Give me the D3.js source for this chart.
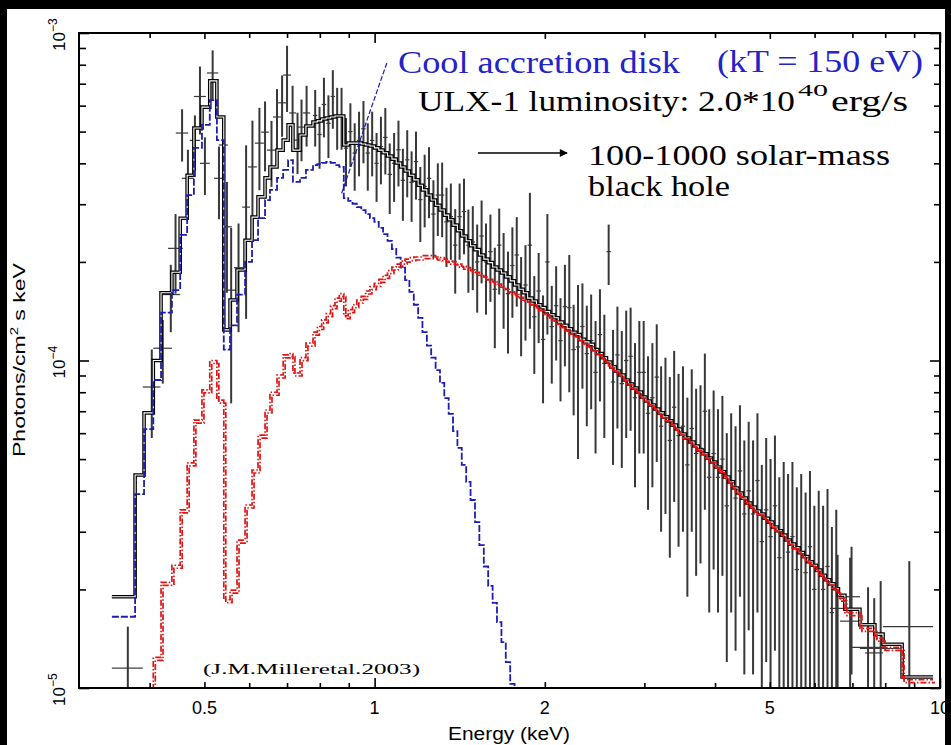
<!DOCTYPE html>
<meta charset="utf-8">
<script src="https://d3js.org/d3.v7.min.js"></script>
<style>body{margin:0;background:#000}</style>
<div id="my_dataviz"></div>
<script>
// bin edges (keV): wide bins below 0.78 keV, narrow bins 0.78-6.6 keV, wide bins above
var lowEdges = [0.343,0.377,0.391,0.406,0.419,0.438,0.453,0.466,0.479,0.495,
  0.511,0.526,0.541,0.555,0.571,0.590,0.607,0.622,0.640,0.653,
  0.672,0.689,0.703,0.717,0.738,0.756];
var denseEdges = [0.778,0.792,0.806,0.821,0.836,0.851,0.866,0.882,0.898,0.914,
  0.930,0.947,0.964,0.981,0.999,1.017,1.035,1.054,1.073,1.092,
  1.112,1.132,1.152,1.173,1.194,1.215,1.237,1.259,1.282,1.305,
  1.328,1.352,1.376,1.401,1.426,1.452,1.478,1.505,1.532,1.560,
  1.588,1.617,1.646,1.676,1.706,1.737,1.768,1.800,1.832,1.865,
  1.899,1.933,1.968,2.003,2.039,2.076,2.113,2.151,2.190,2.229,
  2.269,2.310,2.352,2.394,2.437,2.481,2.526,2.571,2.617,2.664,
  2.712,2.761,2.811,2.862,2.913,2.965,3.018,3.072,3.127,3.183,
  3.240,3.298,3.357,3.417,3.479,3.542,3.606,3.671,3.737,3.804,
  3.872,3.942,4.013,4.085,4.159,4.234,4.310,4.388,4.467,4.547,
  4.629,4.712,4.797,4.883,4.971,5.060,5.151,5.244,5.338,5.434,
  5.532,5.632,5.733,5.836,5.941,6.048,6.157,6.268,6.381,6.496,6.613];
var tailEdges = [6.789,7.217,7.67,7.93,8.57,9.72];

// total model (black), one value per model bin
var totalModel = [1.90e-5,4.47e-5,6.92e-5,1.00e-4,1.61e-4,1.86e-4,2.72e-4,3.68e-4,5.13e-4,5.94e-4,
  7.14e-4,5.54e-4,1.24e-4,1.53e-4,1.89e-4,2.33e-4,2.74e-4,3.16e-4,3.61e-4,3.90e-4,
  4.39e-4,4.71e-4,5.24e-4,4.39e-4,4.88e-4,5.20e-4,
  5.35e-4,5.39e-4,5.46e-4,5.50e-4,5.54e-4,5.58e-4,5.58e-4,4.55e-4,4.61e-4,4.61e-4,
  4.61e-4,4.58e-4,4.55e-4,4.52e-4,4.46e-4,4.39e-4,4.31e-4,4.21e-4,4.12e-4,4.01e-4,
  3.90e-4,3.79e-4,3.68e-4,3.56e-4,3.43e-4,3.32e-4,3.20e-4,3.09e-4,2.98e-4,2.88e-4,
  2.78e-4,2.69e-4,2.59e-4,2.49e-4,2.40e-4,2.32e-4,2.24e-4,2.18e-4,2.10e-4,2.04e-4,
  1.99e-4,1.93e-4,1.89e-4,1.85e-4,1.80e-4,1.75e-4,1.70e-4,1.65e-4,1.61e-4,1.55e-4,
  1.52e-4,1.48e-4,1.45e-4,1.41e-4,1.38e-4,1.35e-4,1.31e-4,1.28e-4,1.25e-4,1.22e-4,
  1.20e-4,1.16e-4,1.14e-4,1.12e-4,1.08e-4,1.05e-4,1.02e-4,9.90e-5,9.56e-5,9.29e-5,
  9.03e-5,8.72e-5,8.48e-5,8.24e-5,8.01e-5,7.73e-5,7.52e-5,7.31e-5,7.11e-5,6.92e-5,
  6.73e-5,6.54e-5,6.35e-5,6.18e-5,5.96e-5,5.80e-5,5.64e-5,5.48e-5,5.33e-5,5.19e-5,
  5.04e-5,4.90e-5,4.73e-5,4.57e-5,4.41e-5,4.26e-5,4.08e-5,3.94e-5,3.80e-5,3.67e-5,
  3.57e-5,3.47e-5,3.40e-5,3.30e-5,3.21e-5,3.10e-5,3.02e-5,2.93e-5,2.83e-5,2.75e-5,
  2.68e-5,2.59e-5,2.52e-5,2.43e-5,2.37e-5,2.29e-5,2.21e-5,2.14e-5,2.08e-5,2.01e-5,
  1.92e-5,1.74e-5,1.56e-5,1.46e-5,1.36e-5,1.08e-5];

// cool disk component (blue)
var diskModel = [1.65e-5,3.91e-5,6.17e-5,8.72e-5,1.40e-4,1.64e-4,2.42e-4,3.20e-4,4.46e-4,5.24e-4,
  6.24e-4,4.71e-4,1.08e-4,1.28e-4,1.59e-4,2.00e-4,2.33e-4,2.72e-4,3.09e-4,3.32e-4,
  3.61e-4,3.82e-4,4.09e-4,3.51e-4,3.61e-4,3.82e-4,
  3.95e-4,3.98e-4,4.01e-4,4.04e-4,4.01e-4,3.95e-4,3.90e-4,3.13e-4,3.07e-4,3.01e-4,
  2.94e-4,2.88e-4,2.80e-4,2.72e-4,2.65e-4,2.54e-4,2.43e-4,2.32e-4,2.19e-4,2.06e-4,
  1.92e-4,1.76e-4,1.62e-4,1.48e-4,1.35e-4,1.22e-4,1.11e-4,1.02e-4,9.35e-5,8.54e-5,
  7.68e-5,6.87e-5,6.09e-5,5.41e-5,4.80e-5,4.26e-5,3.75e-5,3.21e-5,2.73e-5,2.35e-5,
  2.05e-5,1.82e-5,1.59e-5,1.38e-5,1.20e-5,1.03e-5,8.9e-6];

// power-law component (red)
var powModel = [5e-6,6e-6,8e-6,1.24e-5,2.10e-5,2.37e-5,3.50e-5,4.87e-5,6.58e-5,8.13e-5,
  1.00e-4,7.57e-5,1.86e-5,1.99e-5,2.83e-5,3.62e-5,4.63e-5,5.92e-5,7.06e-5,8.0e-5,
  9.03e-5,1.04e-4,1.05e-4,9.16e-5,1.02e-4,1.13e-4,
  1.22e-4,1.27e-4,1.33e-4,1.39e-4,1.47e-4,1.55e-4,1.60e-4,1.37e-4,1.43e-4,1.48e-4,
  1.53e-4,1.57e-4,1.63e-4,1.68e-4,1.72e-4,1.77e-4,1.82e-4,1.88e-4,1.93e-4,1.97e-4,
  2.01e-4,2.04e-4,2.06e-4,2.07e-4,2.07e-4,2.09e-4,2.09e-4,2.09e-4,2.07e-4,2.06e-4,
  2.04e-4,2.01e-4,2.00e-4,1.97e-4,1.94e-4,1.92e-4,1.89e-4,1.86e-4,1.84e-4,1.80e-4,
  1.77e-4,1.74e-4,1.71e-4,1.68e-4,1.65e-4,1.62e-4,1.60e-4,1.56e-4,1.54e-4,1.51e-4,
  1.48e-4,1.45e-4,1.42e-4,1.38e-4,1.35e-4,1.32e-4,1.29e-4,1.26e-4,1.23e-4,1.21e-4,
  1.18e-4,1.15e-4,1.12e-4,1.10e-4,1.07e-4,1.04e-4,1.01e-4,9.83e-5,9.49e-5,9.22e-5,
  8.97e-5,8.66e-5,8.42e-5,8.18e-5,7.95e-5,7.68e-5,7.47e-5,7.26e-5,7.06e-5,6.87e-5,
  6.68e-5,6.50e-5,6.31e-5,6.13e-5,5.92e-5,5.76e-5,5.60e-5,5.44e-5,5.29e-5,5.15e-5,
  5.01e-5,4.87e-5,4.70e-5,4.54e-5,4.38e-5,4.23e-5,4.05e-5,3.91e-5,3.77e-5,3.64e-5,
  3.54e-5,3.45e-5,3.37e-5,3.28e-5,3.19e-5,3.08e-5,3.00e-5,2.91e-5,2.81e-5,2.73e-5,
  2.66e-5,2.57e-5,2.50e-5,2.42e-5,2.35e-5,2.27e-5,2.20e-5,2.13e-5,2.06e-5,1.99e-5,
  1.88e-5,1.70e-5,1.52e-5,1.42e-5,1.33e-5,1.06e-5];

// wide data bins (low and high energy ends)
var wideLo   = [0.343,0.389,0.406,0.419,0.431,0.445,0.456,0.471,0.479,0.491,0.505,0.520,0.530,0.537,
  0.546,0.564,0.583,0.597,0.614,0.630,0.645,0.661,0.675,0.689,0.706,0.720,0.732,0.747,
  6.39,6.653,6.73,6.93,7.217,7.37,7.93];
var wideHi   = [0.389,0.418,0.438,0.453,0.458,0.468,0.479,0.491,0.503,0.511,0.529,0.541,0.550,0.559,
  0.569,0.585,0.602,0.619,0.637,0.650,0.669,0.683,0.697,0.711,0.726,0.741,0.753,0.769,
  6.79,7.217,7.22,7.99,8.49,7.93,9.72];
var wideFlux = [1.15e-5,8.3e-5,1.09e-4,1.59e-4,2.2e-4,4.95e-4,3.6e-4,4.7e-4,6.4e-4,4.0e-4,7.55e-4,3.6e-4,4.55e-4,2.56e-4,
  1.64e-4,1.92e-4,2.94e-4,3.9e-4,4.61e-4,4.98e-4,4.39e-4,5.54e-4,6.12e-4,7.44e-4,5.7e-4,4.71e-4,5.16e-4,5.7e-4,
  1.75e-5,1.6e-5,1.9e-5,1.33e-5,1.32e-5,1.28e-5,1.54e-5];
var wideErr  = [0.39e-5,2.5e-5,2.4e-5,3.7e-5,0.6e-4,0.9e-4,0.8e-4,0.9e-4,1.5e-4,0.8e-4,1.3e-4,0.9e-4,1.0e-4,0.95e-4,
  0.9e-4,0.7e-4,1.6e-4,1.5e-4,1.3e-4,1.2e-4,1.0e-4,1.2e-4,1.3e-4,1.7e-4,1.2e-4,1.0e-4,1.1e-4,1.2e-4,
  0.8e-5,0.9e-5,0.8e-5,0.7e-5,0.8e-5,0.6e-5,0.9e-5];

// narrow data bins (one per denseEdges interval)
var denseFlux = [5.6e-4,4.9e-4,6.05e-4,5.3e-4,6.4e-4,5.6e-4,5.6e-4,4.45e-4,5.0e-4,4.3e-4,
  4.7e-4,5.1e-4,4.3e-4,4.7e-4,4.0e-4,4.5e-4,4.8e-4,3.7e-4,4.0e-4,4.4e-4,
  3.55e-4,4.1e-4,3.5e-4,4.05e-4,3.1e-4,3.4e-4,3.6e-4,2.8e-4,3.2e-4,3.2e-4,
  2.65e-4,2.75e-4,2.25e-4,2.75e-4,2.85e-4,2.25e-4,2.3e-4,2.0e-4,2.4e-4,2.0e-4,
  2.15e-4,1.65e-4,2.25e-4,1.85e-4,1.6e-4,1.95e-4,2.1e-4,1.55e-4,1.7e-4,2.25e-4,
  1.36e-4,1.63e-4,1.16e-4,2.0e-4,1.27e-4,1.47e-4,1.15e-4,1.46e-4,1.45e-4,1.08e-4,
  1.1e-4,1.27e-4,1.05e-4,1.15e-4,9.2e-5,1.2e-4,9.8e-5,2.15e-4,8.6e-5,1.04e-4,
  8.5e-5,1.0e-4,1.03e-4,7.7e-5,9.2e-5,9.2e-5,6.9e-5,7.7e-5,8.9e-5,6.3e-5,
  6.8e-5,5.7e-5,7.2e-5,5.9e-5,6.3e-5,4.8e-5,6.2e-5,5.2e-5,5.4e-5,7.0e-5,
  4.4e-5,5.2e-5,4.4e-5,5.0e-5,3.6e-5,4.3e-5,3.8e-5,4.6e-5,3.4e-5,4.0e-5,
  3.4e-5,4.3e-5,2.8e-5,3.5e-5,2.9e-5,3.6e-5,2.5e-5,2.9e-5,2.6e-5,2.9e-5,
  2.3e-5,2.6e-5,2.25e-5,2.7e-5,2.0e-5,2.3e-5,2.0e-5,2.35e-5,1.7e-5,2.0e-5];
var denseErr = [1.1e-4,1.05e-4,1.25e-4,1.15e-4,1.3e-4,1.2e-4,1.2e-4,1.05e-4,1.1e-4,1.0e-4,
  1.05e-4,1.1e-4,1.0e-4,1.05e-4,0.95e-4,1.05e-4,1.1e-4,0.9e-4,0.95e-4,1.0e-4,
  0.88e-4,0.95e-4,0.85e-4,0.95e-4,0.8e-4,0.85e-4,0.88e-4,0.75e-4,0.8e-4,0.82e-4,
  0.72e-4,0.72e-4,0.65e-4,0.72e-4,0.74e-4,0.64e-4,0.66e-4,0.6e-4,0.68e-4,0.62e-4,
  0.64e-4,0.56e-4,0.66e-4,0.6e-4,0.55e-4,0.6e-4,0.64e-4,0.52e-4,0.55e-4,1.0e-4,
  0.45e-4,0.5e-4,0.42e-4,0.8e-4,0.42e-4,0.47e-4,0.4e-4,0.5e-4,0.65e-4,0.4e-4,
  0.6e-4,0.45e-4,0.42e-4,0.44e-4,0.4e-4,0.45e-4,0.4e-4,0.45e-4,0.38e-4,0.42e-4,
  0.38e-4,0.42e-4,0.42e-4,0.36e-4,0.4e-4,0.4e-4,0.34e-4,0.36e-4,0.4e-4,0.33e-4,
  0.34e-4,0.32e-4,0.35e-4,0.32e-4,0.33e-4,0.29e-4,0.32e-4,0.3e-4,0.3e-4,0.35e-4,
  0.27e-4,0.29e-4,0.27e-4,0.28e-4,0.24e-4,0.26e-4,0.25e-4,0.27e-4,0.23e-4,0.25e-4,
  0.23e-4,0.26e-4,0.2e-4,0.23e-4,0.21e-4,0.23e-4,0.19e-4,0.2e-4,0.19e-4,0.2e-4,
  0.18e-4,0.19e-4,0.17e-4,0.19e-4,0.16e-4,0.17e-4,0.16e-4,0.17e-4,0.14e-4,0.15e-4];

// axis ticks
var xTickVals = [0.5, 1, 2, 5, 10];
var xTickText = ["0.5", "1", "2", "5", "10"];
var xMinor = [0.4, 0.6, 0.7, 0.8, 0.9, 3, 4, 6, 7, 8, 9];
var yTickVals = [1e-5, 1e-4, 1e-3];
var yTickExp = ["\u22125", "\u22124", "\u22123"];
var yMinor = [2e-5,3e-5,4e-5,5e-5,6e-5,7e-5,8e-5,9e-5,2e-4,3e-4,4e-4,5e-4,6e-4,7e-4,8e-4,9e-4];

var modelEdges = lowEdges.concat(denseEdges, tailEdges);

var width = 951, height = 745;
var plotL = 79, plotR = 940, plotT = 33, plotB = 688;

var svg = d3.select("#my_dataviz")
  .append("svg")
    .attr("width", width)
    .attr("height", height);

svg.append("rect").attr("width", width).attr("height", height).attr("fill", "#000");
svg.append("rect").attr("x", 7).attr("y", 9).attr("width", 938).attr("height", 736).attr("fill", "#fff");

var x = d3.scaleLog().domain([0.3, 10]).range([plotL, plotR]);
var y = d3.scaleLog().domain([1e-5, 1e-3]).range([plotB, plotT]);

svg.append("clipPath").attr("id", "plotclip")
  .append("rect").attr("x", plotL).attr("y", plotT).attr("width", plotR - plotL).attr("height", plotB - plotT);

var plot = svg.append("g").attr("clip-path", "url(#plotclip)");

// data crosses
function cross(g, lo, hi, f, df) {
  var yc = y(f);
  var ylo = f - df > 1e-7 ? y(f - df) : plotB + 20;
  var xc = x((lo + hi) / 2);
  g.append("line").attr("x1", x(lo)).attr("x2", x(hi)).attr("y1", yc).attr("y2", yc)
    .attr("stroke-width", 1.2);
  g.append("line").attr("x1", xc).attr("x2", xc).attr("y1", y(f + df)).attr("y2", ylo)
    .attr("stroke-width", 2);
}
var dataG = plot.append("g").attr("stroke", "#383838");
wideFlux.forEach(function(f, i) { cross(dataG, wideLo[i], wideHi[i], f, wideErr[i]); });
denseFlux.forEach(function(f, i) { cross(dataG, denseEdges[i], denseEdges[i + 1], f, denseErr[i]); });

// step curves
function steps(vals) {
  var pts = [];
  vals.forEach(function(v, i) { pts.push([modelEdges[i], v]); pts.push([modelEdges[i + 1], v]); });
  return pts;
}
var line = d3.line().x(function(d) { return x(d[0]); }).y(function(d) { return y(d[1]); });

plot.append("path").attr("d", line(steps(totalModel)))
  .attr("fill", "none").attr("stroke", "#000").attr("stroke-width", 3.6);
plot.append("path").attr("d", line(steps(totalModel)))
  .attr("fill", "none").attr("stroke", "#fff").attr("stroke-width", 1.1);

plot.append("path").attr("d", line(steps(diskModel)))
  .attr("fill", "none").attr("stroke", "#1c1cb8").attr("stroke-width", 1.8)
  .attr("stroke-dasharray", "7,2");

[[0, 0], [2, 3]].forEach(function(o) {
  plot.append("path").attr("d", line(steps(powModel)))
    .attr("transform", "translate(" + o[0] + "," + o[1] + ")")
    .attr("fill", "none").attr("stroke", "#e01414").attr("stroke-width", 1.7)
    .attr("stroke-dasharray", "6,2,1.5,2");
});

// axes: ticks point inward
function ticks(axis, vals, len, tx, ty) {
  var g = svg.append("g").attr("transform", "translate(" + tx + "," + ty + ")")
    .call(axis.tickValues(vals).tickSize(-len).tickFormat(""));
  g.select(".domain").remove();
  g.selectAll("line").attr("stroke", "#000").attr("stroke-width", 1.6);
}
ticks(d3.axisBottom(x), [1, 10], 10, 0, plotB);
ticks(d3.axisBottom(x), [0.5, 2, 5], 6, 0, plotB);
ticks(d3.axisBottom(x), xMinor, 5, 0, plotB);
ticks(d3.axisTop(x), [1, 10], 10, 0, plotT);
ticks(d3.axisTop(x), [0.5, 2, 5], 6, 0, plotT);
ticks(d3.axisTop(x), xMinor, 5, 0, plotT);
ticks(d3.axisLeft(y), yTickVals, 10, plotL, 0);
ticks(d3.axisLeft(y), yMinor, 7, plotL, 0);
ticks(d3.axisRight(y), yTickVals, 10, plotR, 0);
ticks(d3.axisRight(y), yMinor, 6, plotR, 0);

svg.append("rect").attr("x", plotL).attr("y", plotT).attr("width", plotR - plotL).attr("height", plotB - plotT)
  .attr("fill", "none").attr("stroke", "#000").attr("stroke-width", 2);

// tick labels
var sans = "Liberation Sans, Arial, sans-serif";
svg.append("g").selectAll("text").data(xTickVals).enter().append("text")
  .attr("x", function(d) { return x(d); }).attr("y", 714)
  .attr("text-anchor", "middle")
  .attr("font-family", sans).attr("font-size", 18)
  .text(function(d, i) { return xTickText[i]; });

yTickVals.forEach(function(v, i) {
  var t = svg.append("text")
    .attr("transform", "translate(65," + (y(v) + 18) + ") rotate(-90)")
    .attr("font-family", sans).attr("font-size", 17);
  t.append("tspan").text("10");
  t.append("tspan").attr("dy", -8).attr("font-size", 12).text(yTickExp[i]);
});

// axis titles
svg.append("text").attr("x", 448).attr("y", 740)
  .attr("font-family", sans).attr("font-size", 18)
  .attr("textLength", 122).attr("lengthAdjust", "spacingAndGlyphs")
  .text("Energy (keV)");

var yt = svg.append("text").attr("transform", "translate(25,457) rotate(-90)")
  .attr("font-family", sans).attr("font-size", 17)
  .attr("textLength", 194).attr("lengthAdjust", "spacingAndGlyphs");
yt.append("tspan").text("Photons/cm");
yt.append("tspan").attr("dy", -7).attr("font-size", 11).text("2");
yt.append("tspan").attr("dy", 7).text(" s keV");

// annotations
var serif = "Liberation Serif, Times New Roman, serif";
function label(txt, x0, y0, len, size, color) {
  svg.append("text").attr("x", x0).attr("y", y0)
    .attr("font-family", serif).attr("font-size", size).attr("fill", color)
    .attr("textLength", len).attr("lengthAdjust", "spacingAndGlyphs")
    .text(txt);
}
label("Cool accretion disk", 398, 73, 282, 32, "#2323c8");
label("(kT = 150 eV)", 717, 72, 206, 32, "#2323c8");
label("ULX-1 luminosity: 2.0*10", 418, 111, 377, 30, "#000");
label("40", 798, 96, 30, 17, "#000");
label("erg/s", 831, 111, 77, 30, "#000");
label("100-1000 solar-mass", 588, 165, 302, 30, "#000");
label("black hole", 588, 196, 142, 30, "#000");
label("(J.M.Milleretal.2003)", 203, 674, 217, 15, "#000");

// pointer from the disk label down to the spectrum
svg.append("line")
  .attr("x1", x(1.051)).attr("y1", y(8.1e-4))
  .attr("x2", x(0.872)).attr("y2", y(3.2e-4))
  .attr("stroke", "#1c1cb8").attr("stroke-width", 1.2).attr("stroke-dasharray", "5,2");

// arrow
svg.append("defs").append("marker").attr("id", "head")
  .attr("viewBox", "0 0 10 10").attr("refX", 9).attr("refY", 5)
  .attr("markerWidth", 12).attr("markerHeight", 8).attr("markerUnits", "userSpaceOnUse")
  .attr("orient", "auto")
  .append("path").attr("d", "M0,0L10,5L0,10z").attr("fill", "#000");
svg.append("line").attr("x1", 478).attr("y1", 153).attr("x2", 567).attr("y2", 153)
  .attr("stroke", "#000").attr("stroke-width", 1.5).attr("marker-end", "url(#head)");

// right border strip over the last label
svg.append("rect").attr("x", 945).attr("y", 0).attr("width", 6).attr("height", height).attr("fill", "#000");
</script>
